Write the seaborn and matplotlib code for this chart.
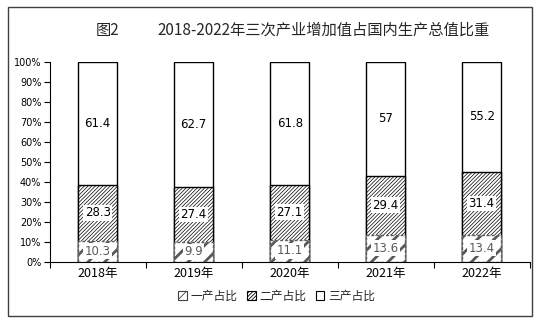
import matplotlib
matplotlib.use("Agg")
import matplotlib.pyplot as plt
from matplotlib.patches import Patch, Rectangle
from matplotlib.ticker import FixedLocator, FuncFormatter
import seaborn as sns
import pandas as pd

years = ["2018年", "2019年", "2020年", "2021年", "2022年"]
primary = [10.3, 9.9, 11.1, 13.6, 13.4]
secondary = [28.3, 27.4, 27.1, 29.4, 31.4]
tertiary = [61.4, 62.7, 61.8, 57, 55.2]
series_names = ["一产占比", "二产占比", "三产占比"]
title_prefix = "图2"
title_text = "2018-2022年三次产业增加值占国内生产总值比重"

sns.set_theme(style="white")
plt.rcParams['font.family'] = ['Noto Sans CJK SC', 'DejaVu Sans']
plt.rcParams['hatch.linewidth'] = 0.6

df = pd.DataFrame({
    "year": years,
    "p": primary,
    "s": secondary,
    "t": tertiary,
})
df["cum2"] = df["p"] + df["s"]
df["cum3"] = df["cum2"] + df["t"]

fig = plt.figure(figsize=(5.39, 3.28), dpi=100)
ax = fig.add_axes([49.7 / 539, 1 - 261.7 / 328, 480 / 539, 200 / 328])

W = 0.406
sns.barplot(data=df, x="year", y="cum3", color="white", saturation=1,
            edgecolor="black", linewidth=1.0, width=W, ax=ax, errorbar=None)
n0 = len(ax.patches)
sns.barplot(data=df, x="year", y="cum2", color="white", saturation=1,
            edgecolor="black", linewidth=1.0, width=W, hatch="/" * 9,
            ax=ax, errorbar=None)
n1 = len(ax.patches)
sns.barplot(data=df, x="year", y="p", color="white", saturation=1,
            edgecolor="#595959", linewidth=1.0, width=W, hatch="//",
            ax=ax, errorbar=None)
for p in ax.patches[n1:]:
    if hasattr(p, "set_hatch_linewidth"):
        p.set_hatch_linewidth(2.0)
    p.set_linestyle((0, (2, 1.5)))
for p in ax.patches[n0:n1]:
    if hasattr(p, "set_hatch_linewidth"):
        p.set_hatch_linewidth(0.5)

# labels
for i in range(len(years)):
    segs = [(primary[i] / 2, primary[i], "#595959"),
            (primary[i] + secondary[i] / 2, secondary[i], "black"),
            (primary[i] + secondary[i] + tertiary[i] / 2, tertiary[i], "black")]
    for yc, v, c in segs:
        ax.text(i, yc, f"{v:g}", ha="center", va="center", fontsize=8.5,
                family="DejaVu Sans", color=c,
                bbox=dict(boxstyle="square,pad=0.12", fc="white", ec="none"))

ax.set_ylim(0, 100)
ax.set_xlim(-0.5, len(years) - 0.5)
ax.set_xlabel("")
ax.set_ylabel("")
ax.set_yticks(range(0, 101, 10))
ax.yaxis.set_major_formatter(FuncFormatter(lambda v, _: f"{int(v)}%"))
for lab in ax.get_yticklabels():
    lab.set_family("DejaVu Sans")
    lab.set_fontsize(7)
ax.tick_params(axis="y", direction="out", length=4, width=0.8, pad=2, colors="black", left=True)
ax.tick_params(axis="x", which="major", length=0, pad=4, labelsize=9, colors="black")
ax.xaxis.set_minor_locator(FixedLocator([i - 0.5 for i in range(len(years) + 1)]))
ax.tick_params(axis="x", which="minor", direction="out", length=4, width=0.8, bottom=True, colors="black")
for s in ["top", "right"]:
    ax.spines[s].set_visible(False)
for s in ["left", "bottom"]:
    ax.spines[s].set_color("black")
    ax.spines[s].set_linewidth(0.8)

# title
fig.text(95.5 / 539, 1 - 30 / 328, title_prefix, fontsize=11, ha="left", va="center")
fig.text(157.5 / 539, 1 - 30 / 328, title_text, fontsize=11, ha="left", va="center")

# legend
handles = [
    Patch(facecolor="white", edgecolor="#404040", hatch="///", linewidth=0.8),
    Patch(facecolor="white", edgecolor="black", hatch="/" * 9, linewidth=0.8),
    Patch(facecolor="white", edgecolor="black", linewidth=0.8),
]
fig.legend(handles, series_names, loc="center", bbox_to_anchor=(276.5 / 539, 1 - 296 / 328),
           ncol=3, frameon=False, fontsize=8.5, handlelength=0.75, handleheight=0.75,
           handletextpad=0.3, columnspacing=0.8, borderaxespad=0)

# border
fig.patches.append(Rectangle((8 / 539, 1 - 316 / 328), 524 / 539, 309 / 328,
                             transform=fig.transFigure, fill=False,
                             edgecolor="#404040", linewidth=1.0))

fig.savefig("out.png", dpi=100)
